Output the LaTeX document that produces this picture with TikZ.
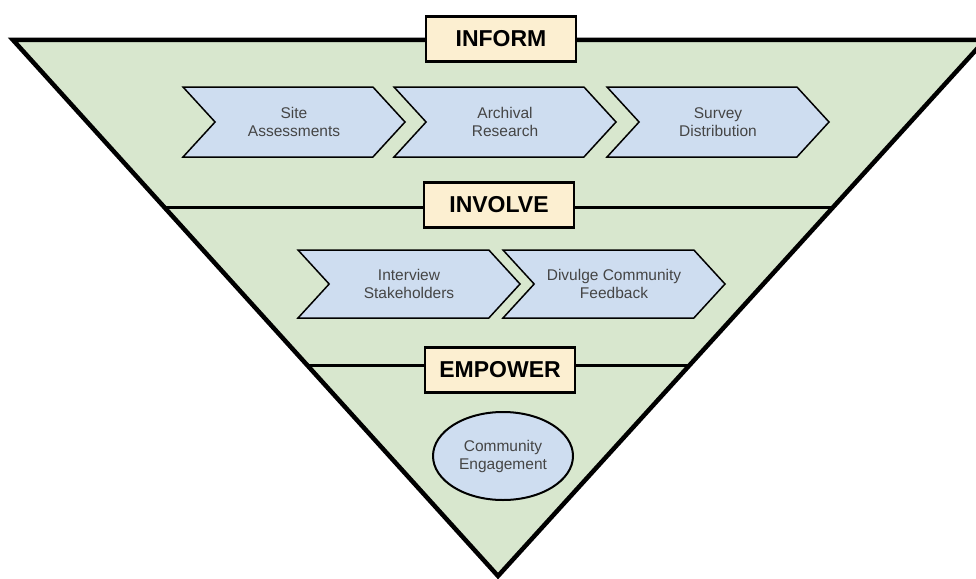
\documentclass[tikz,border=0pt]{standalone}
\usepackage{fontspec}
\setmainfont{Liberation Sans}
\definecolor{funnelgreen}{HTML}{D8E7CE}
\definecolor{stepblue}{HTML}{CEDDF0}
\definecolor{labelcream}{HTML}{FCEFD1}
\definecolor{textgray}{HTML}{454545}
\usetikzlibrary{shapes, positioning, calc}

\begin{document}
\begin{tikzpicture}[
    x=1pt, y=-1pt,
    stage/.style={rectangle, draw=black, line width=2.5pt, fill=labelcream,
                  minimum width=150pt, minimum height=45pt, inner sep=0pt,
                  font=\fontsize{23}{26}\selectfont\bfseries},
    task/.style={signal, signal from=west, signal to=east,
                 signal pointer angle=95, draw=black, line width=1.5pt,
                 fill=stepblue, minimum width=222pt, minimum height=70pt,
                 inner sep=0pt, align=center, text=textgray,
                 font=\fontsize{15.5}{18}\selectfont},
    goal/.style={ellipse, draw=black, line width=2pt, fill=stepblue,
                 minimum width=140pt, minimum height=88pt, inner sep=0pt,
                 align=center, text=textgray, font=\fontsize{15.5}{18}\selectfont},
    divider/.style={line width=3pt}
  ]
  \clip (0,0) rectangle (976,578);
  \useasboundingbox (0,0) rectangle (976,578);

  % funnel
  \coordinate (tl) at (13,40);
  \coordinate (tr) at (985,40);
  \coordinate (apex) at (498,576);
  \fill[funnelgreen] (tl) -- (tr) -- (apex) -- cycle;

  \coordinate (l2) at ($(tl)!0.313!(apex)$);
  \coordinate (r2) at ($(tr)!0.313!(apex)$);
  \coordinate (l3) at ($(tl)!0.607!(apex)$);
  \coordinate (r3) at ($(tr)!0.607!(apex)$);
  \draw[divider] (l2) -- (r2);
  \draw[divider] (l3) -- (r3);
  \draw[line width=4.5pt, line join=miter] (tl) -- (tr) -- (apex) -- cycle;

  % stage labels
  \node[stage] (inform) at (501,39) {INFORM};
  \node[stage] (involve) at (499,205) {INVOLVE};
  \node[stage] (empower) at (500,370) {EMPOWER};

  % inform steps
  \node[task] (site) at (294,122) {Site\\Assessments};
  \node[task] (archival) at ($(site)+(211,0)$) {Archival\\Research};
  \node[task] (survey) at ($(archival)+(213,0)$) {Survey\\Distribution};

  % involve steps
  \node[task, minimum height=68pt] (interview) at (409,284) {Interview\\Stakeholders};
  \node[task, minimum height=68pt] (divulge) at ($(interview)+(205,0)$) {Divulge Community\\Feedback};

  % empower
  \node[goal] (engage) at (503,456) {Community\\Engagement};
\end{tikzpicture}
\end{document}
